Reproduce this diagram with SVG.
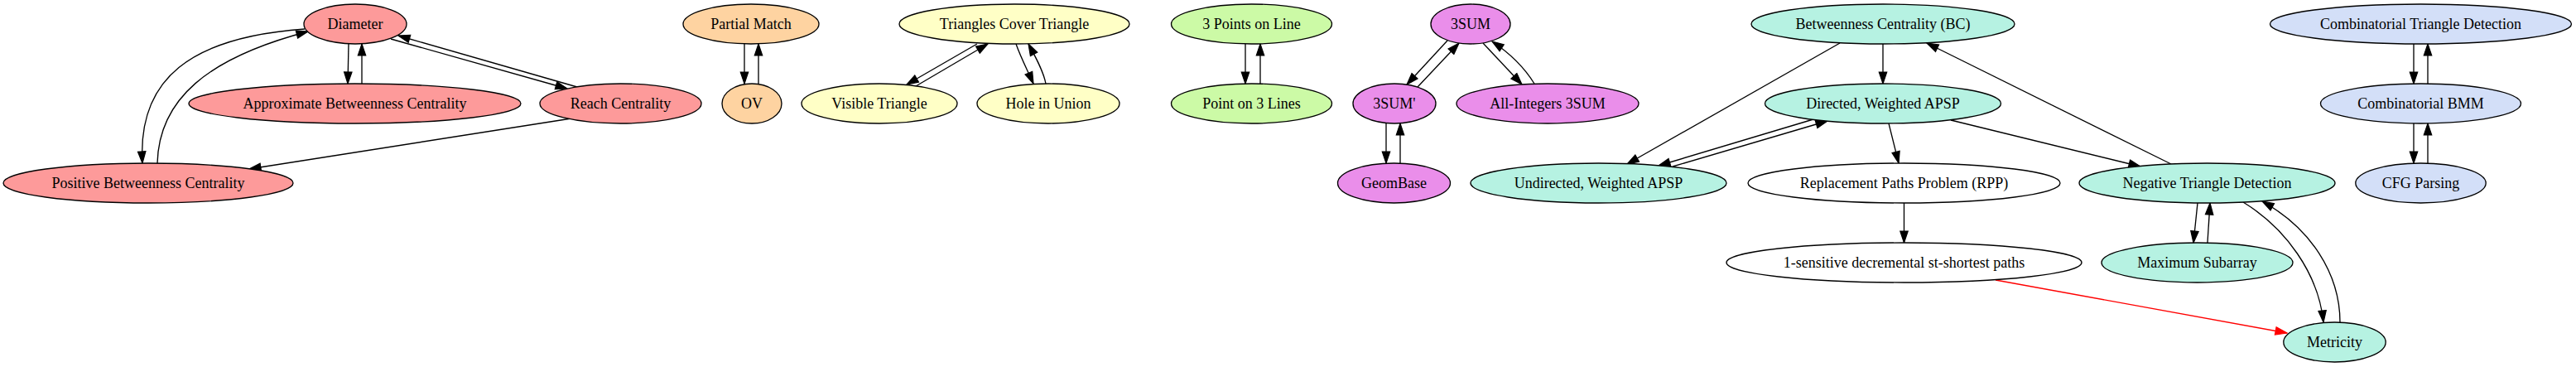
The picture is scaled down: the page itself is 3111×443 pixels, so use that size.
<svg xmlns="http://www.w3.org/2000/svg" width="3111" height="443" viewBox="0 0 3111 443">
<style>
.n ellipse{stroke:#000;stroke-width:1.33}
.n text{font-family:"Liberation Serif","Times New Roman",serif;font-size:18px;text-anchor:middle;fill:#000}
.sal{fill:#fd9a9a}.pea{fill:#fed3a1}.yel{fill:#ffffc6}.grn{fill:#ccfaa6}.vio{fill:#ea8eea}.aqu{fill:#b6f2e2}.blu{fill:#d3dff8}.wht{fill:#fff}
.e path{fill:none;stroke:#000;stroke-width:1.33;marker-end:url(#ah)}
.e path.red{stroke:#f00;marker-end:url(#ahr)}
</style>
<defs>
<marker id="ah" markerUnits="userSpaceOnUse" markerWidth="16" markerHeight="12" viewBox="-1 -1 16 12" refX="14" refY="5" orient="auto"><path d="M0,0.3 L14,5 L0,9.7 z" fill="#000" stroke="#000" stroke-width="1.2"/></marker>
<marker id="ahr" markerUnits="userSpaceOnUse" markerWidth="16" markerHeight="12" viewBox="-1 -1 16 12" refX="14" refY="5" orient="auto"><path d="M0,0.3 L14,5 L0,9.7 z" fill="#f00" stroke="#f00" stroke-width="1.2"/></marker>
</defs>
<rect width="3111" height="443" fill="#fff"/>
<g id="edges" class="e">
<path d="M421,53 L420,101"/>
<path d="M437,101 L437,53"/>
<path d="M472,47 L685,107"/>
<path d="M697,105 L481,43"/>
<path d="M368,35 C230,45 166,95 172,197"/>
<path d="M190,197 C192,120 250,70 372,38"/>
<path d="M690,143 L301,204"/>
<path d="M899,53 L899,101"/>
<path d="M916,101 L916,53"/>
<path d="M1180,53 L1095,102"/>
<path d="M1106,104 L1193,53"/>
<path d="M1227,53 C1233,70 1241,85 1248,101"/>
<path d="M1263,101 C1260,85 1250,68 1242,53"/>
<path d="M1504,53 L1504,101"/>
<path d="M1522,101 L1522,53"/>
<path d="M1748,49 L1699,102"/>
<path d="M1712,105 L1762,52"/>
<path d="M1791,52 L1838,102"/>
<path d="M1853,101 C1840,80 1820,62 1802,50"/>
<path d="M1674,149 L1674,197"/>
<path d="M1691,197 L1691,149"/>
<path d="M2274,53 L2274,101"/>
<path d="M2222,52 L1965,198"/>
<path d="M2190,144 L2003,200"/>
<path d="M2020,201 L2207,146"/>
<path d="M2281,149 L2293,197"/>
<path d="M2356,145 L2585,201"/>
<path d="M2622,198 L2327,52"/>
<path d="M2299.5,245 L2299.5,293"/>
<path class="red" d="M2410,338 L2762,402"/>
<path d="M2654,245 L2649,293"/>
<path d="M2666,293 L2669,245"/>
<path d="M2709,244 C2760,275 2800,330 2806,389"/>
<path d="M2826,389 C2826,330 2790,275 2732,243"/>
<path d="M2915,53 L2915,101"/>
<path d="M2932,101 L2932,53"/>
<path d="M2915,149 L2915,197"/>
<path d="M2932,197 L2932,149"/>
</g>
<g id="diameter" class="n"><ellipse class="sal" cx="429" cy="29" rx="62" ry="24"/><text x="429" y="35">Diameter</text></g>
<g id="approx-bc" class="n"><ellipse class="sal" cx="428.5" cy="125" rx="200.5" ry="24"/><text x="428.5" y="131">Approximate Betweenness Centrality</text></g>
<g id="reach" class="n"><ellipse class="sal" cx="749.5" cy="125" rx="97.5" ry="24"/><text x="749.5" y="131">Reach Centrality</text></g>
<g id="positive-bc" class="n"><ellipse class="sal" cx="179" cy="221" rx="175" ry="24"/><text x="179" y="227">Positive Betweenness Centrality</text></g>
<g id="partial-match" class="n"><ellipse class="pea" cx="907" cy="29" rx="82" ry="24"/><text x="907" y="35">Partial Match</text></g>
<g id="ov" class="n"><ellipse class="pea" cx="908" cy="125" rx="36" ry="24"/><text x="908" y="131">OV</text></g>
<g id="tct" class="n"><ellipse class="yel" cx="1225" cy="29" rx="139" ry="24"/><text x="1225" y="35">Triangles Cover Triangle</text></g>
<g id="visible-triangle" class="n"><ellipse class="yel" cx="1062" cy="125" rx="94" ry="24"/><text x="1062" y="131">Visible Triangle</text></g>
<g id="hole-in-union" class="n"><ellipse class="yel" cx="1266" cy="125" rx="86" ry="24"/><text x="1266" y="131">Hole in Union</text></g>
<g id="three-points" class="n"><ellipse class="grn" cx="1511.5" cy="29" rx="97" ry="24"/><text x="1511.5" y="35">3 Points on Line</text></g>
<g id="point-3-lines" class="n"><ellipse class="grn" cx="1511.5" cy="125" rx="97" ry="24"/><text x="1511.5" y="131">Point on 3 Lines</text></g>
<g id="3sum" class="n"><ellipse class="vio" cx="1776" cy="29" rx="48" ry="24"/><text x="1776" y="35">3SUM</text></g>
<g id="3sum-prime" class="n"><ellipse class="vio" cx="1684" cy="125" rx="50" ry="24"/><text x="1684" y="131">3SUM'</text></g>
<g id="all-int-3sum" class="n"><ellipse class="vio" cx="1869" cy="125" rx="110" ry="24"/><text x="1869" y="131">All-Integers 3SUM</text></g>
<g id="geombase" class="n"><ellipse class="vio" cx="1683.5" cy="221" rx="68" ry="24"/><text x="1683.5" y="227">GeomBase</text></g>
<g id="undirected-apsp" class="n"><ellipse class="aqu" cx="1930.5" cy="221" rx="154.5" ry="24"/><text x="1930.5" y="227">Undirected, Weighted APSP</text></g>
<g id="bc" class="n"><ellipse class="aqu" cx="2274" cy="29" rx="159" ry="24"/><text x="2274" y="35">Betweenness Centrality (BC)</text></g>
<g id="directed-apsp" class="n"><ellipse class="aqu" cx="2274" cy="125" rx="142.5" ry="24"/><text x="2274" y="131">Directed, Weighted APSP</text></g>
<g id="rpp" class="n"><ellipse class="wht" cx="2299.5" cy="221" rx="188.5" ry="24"/><text x="2299.5" y="227">Replacement Paths Problem (RPP)</text></g>
<g id="ntd" class="n"><ellipse class="aqu" cx="2665.5" cy="221" rx="154.5" ry="24"/><text x="2665.5" y="227">Negative Triangle Detection</text></g>
<g id="one-sensitive" class="n"><ellipse class="wht" cx="2299.5" cy="317" rx="214.5" ry="24"/><text x="2299.5" y="323">1-sensitive decremental st-shortest paths</text></g>
<g id="max-subarray" class="n"><ellipse class="aqu" cx="2653.5" cy="317" rx="115.5" ry="24"/><text x="2653.5" y="323">Maximum Subarray</text></g>
<g id="metricity" class="n"><ellipse class="aqu" cx="2819.5" cy="413" rx="61.7" ry="24"/><text x="2819.5" y="419">Metricity</text></g>
<g id="ctd" class="n"><ellipse class="blu" cx="2923.5" cy="29" rx="182" ry="24"/><text x="2923.5" y="35">Combinatorial Triangle Detection</text></g>
<g id="cbmm" class="n"><ellipse class="blu" cx="2923.5" cy="125" rx="121" ry="24"/><text x="2923.5" y="131">Combinatorial BMM</text></g>
<g id="cfg" class="n"><ellipse class="blu" cx="2923.5" cy="221" rx="78.7" ry="24"/><text x="2923.5" y="227">CFG Parsing</text></g>
</svg>
